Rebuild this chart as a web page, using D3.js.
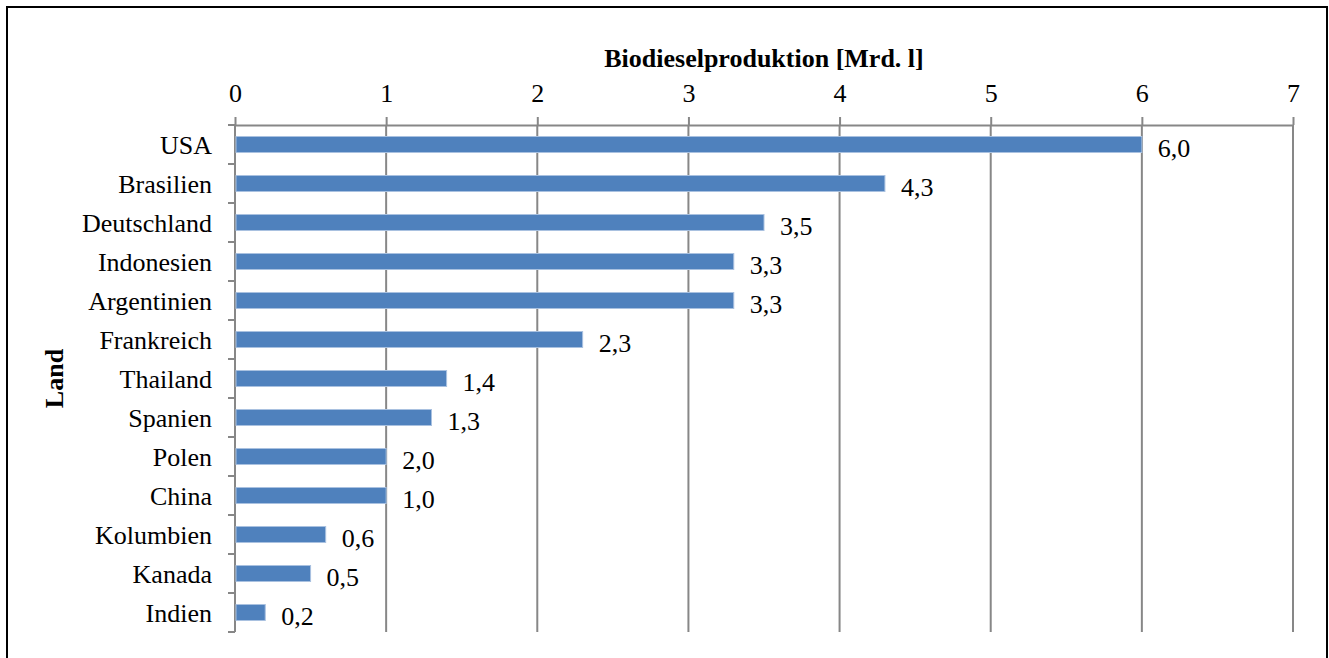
<!DOCTYPE html>
<html>
<head>
<meta charset="utf-8">
<script src="https://cdn.jsdelivr.net/npm/d3@7"></script>
<style>
  html, body { margin: 0; padding: 0; background: #fff; }
  svg { display: block; }
  text { font-family: "Liberation Serif", "Times New Roman", serif; fill: #000; }
</style>
</head>
<body>
<div id="chart"></div>
<script>
// Biodieselproduktion nach Land
const countries = ["USA", "Brasilien", "Deutschland", "Indonesien", "Argentinien", "Frankreich",
  "Thailand", "Spanien", "Polen", "China", "Kolumbien", "Kanada", "Indien"];
const production = [6.0, 4.3, 3.5, 3.3, 3.3, 2.3, 1.4, 1.3, 1.0, 1.0, 0.6, 0.5, 0.2];
// data labels as printed in the source (Polen shows 2,0)
const valueLabels = ["6,0", "4,3", "3,5", "3,3", "3,3", "2,3", "1,4", "1,3", "2,0", "1,0", "0,6", "0,5", "0,2"];
const xTicks = [0, 1, 2, 3, 4, 5, 6, 7];

const W = 1329, H = 658;
const margin = {top: 125, right: 36, bottom: 26, left: 235};
const width = W - margin.left - margin.right;
const height = H - margin.top - margin.bottom;
const fontSize = "26px";

const svg = d3.select("#chart").append("svg")
  .attr("width", W)
  .attr("height", H);

// outer frame
svg.append("rect")
  .attr("x", 7).attr("y", 7)
  .attr("width", W - 9).attr("height", H + 10)
  .attr("fill", "none")
  .attr("stroke", "#000")
  .attr("stroke-width", 2);

const g = svg.append("g")
  .attr("transform", `translate(${margin.left},${margin.top})`);

const x = d3.scaleLinear().domain([0, 7]).range([0, width]);
const y = d3.scaleBand().domain(countries).range([0, height]).paddingInner(0.59).paddingOuter(0.295);
const yBand = d3.scaleBand().domain(countries).range([0, height]); // for category ticks

// vertical grid lines
g.append("g")
  .selectAll("line")
  .data(xTicks.slice(1))
  .enter().append("line")
    .attr("x1", d => x(d)).attr("x2", d => x(d))
    .attr("y1", 0).attr("y2", height)
    .attr("stroke", "#878787")
    .attr("stroke-width", 2);

// top axis
const xAxis = d3.axisTop(x).tickValues(xTicks).tickSize(8).tickSizeOuter(0).tickFormat(d3.format("d"));
g.append("g")
  .call(xAxis)
  .call(a => a.select(".domain").attr("stroke", "#878787").attr("stroke-width", 2))
  .call(a => a.selectAll(".tick line").attr("stroke", "#878787").attr("stroke-width", 2))
  .call(a => a.selectAll(".tick text")
    .attr("y", -23)
    .style("font-size", fontSize)
    .style("font-family", "'Liberation Serif', serif")
    .attr("fill", "#000"));

// left axis line with category ticks
g.append("line")
  .attr("x1", 0).attr("x2", 0)
  .attr("y1", 0).attr("y2", height)
  .attr("stroke", "#878787")
  .attr("stroke-width", 2);

g.append("g")
  .selectAll("line")
  .data(countries.map(c => yBand(c)).concat([height]))
  .enter().append("line")
    .attr("x1", -7).attr("x2", 0)
    .attr("y1", d => d).attr("y2", d => d)
    .attr("stroke", "#878787")
    .attr("stroke-width", 2);

// category labels
g.append("g")
  .selectAll("text")
  .data(countries)
  .enter().append("text")
    .attr("x", -23)
    .attr("y", d => yBand(d) + yBand.bandwidth() / 2)
    .attr("dy", "0.35em")
    .attr("text-anchor", "end")
    .style("font-size", fontSize)
    .text(d => d);

// bars
g.append("g")
  .selectAll("rect")
  .data(production)
  .enter().append("rect")
    .attr("x", 1)
    .attr("y", (d, i) => y(countries[i]))
    .attr("width", d => x(d) - 1)
    .attr("height", y.bandwidth())
    .attr("fill", "#4F81BD")
    .attr("stroke", "#A9C1E0")
    .attr("stroke-width", 1);

// value labels
g.append("g")
  .selectAll("text")
  .data(production)
  .enter().append("text")
    .attr("x", d => x(d) + 16)
    .attr("y", (d, i) => yBand(countries[i]) + yBand.bandwidth() / 2 + 3)
    .attr("dy", "0.35em")
    .style("font-size", fontSize)
    .text((d, i) => valueLabels[i]);

// axis titles
svg.append("text")
  .attr("x", margin.left + width / 2)
  .attr("y", 67)
  .attr("text-anchor", "middle")
  .style("font-size", fontSize)
  .style("font-weight", "bold")
  .text("Biodieselproduktion [Mrd. l]");

svg.append("text")
  .attr("transform", `translate(63,${margin.top + height / 2}) rotate(-90)`)
  .attr("text-anchor", "middle")
  .style("font-size", fontSize)
  .style("font-weight", "bold")
  .text("Land");
</script>
</body>
</html>
